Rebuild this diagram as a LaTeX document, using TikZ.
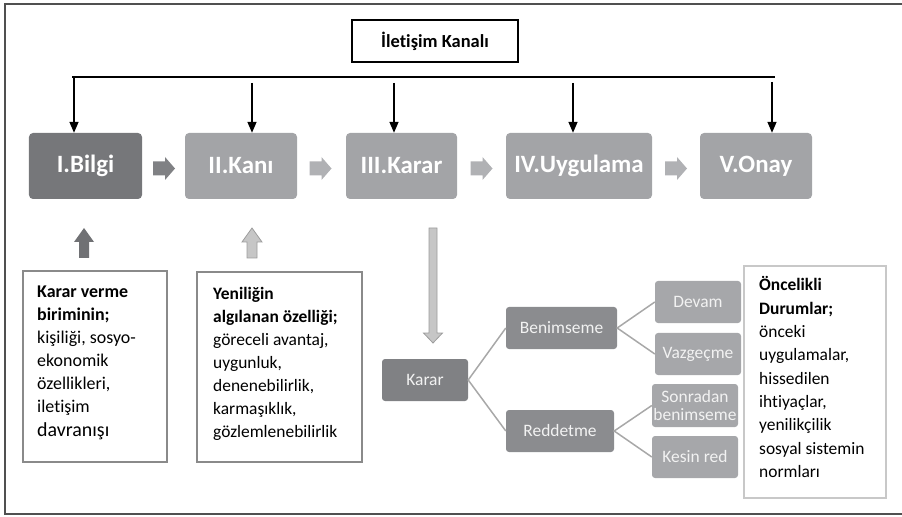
\documentclass[tikz,border=0pt]{standalone}
\usepackage{fontspec}
\setmainfont{Carlito}[Ligatures=NoCommon,RawFeature={-liga;-clig;-calt}]
\usetikzlibrary{arrows.meta}
\definecolor{stagedark}{HTML}{76777A}
\definecolor{stagelight}{HTML}{A3A4A7}
\definecolor{blkdark}{HTML}{808184}
\definecolor{blklight}{HTML}{B0B1B4}
\definecolor{treedark}{HTML}{808184}
\definecolor{treemid}{HTML}{8B8C8F}
\definecolor{treelight}{HTML}{A6A7AA}
\definecolor{lineg}{HTML}{A8A8A8}
\definecolor{boxedge}{HTML}{8A8A8A}
\definecolor{boxedgelight}{HTML}{C8C8C8}
\definecolor{paleg}{HTML}{C6C6C6}
\definecolor{paleedge}{HTML}{9C9C9C}
\definecolor{frameg}{HTML}{505050}
\begin{document}
\begin{tikzpicture}[x=1bp,y=-1bp,
  stage/.style={rounded corners=4bp, minimum height=66bp, inner sep=0pt, text=white,
    font=\fontsize{25}{30}\selectfont\bfseries},
  treebox/.style={rounded corners=3bp, minimum height=42bp, inner sep=0pt, text=white!95!black,
    font=\fontsize{17.5}{19}\selectfont, align=center},
  infobox/.style={draw=boxedge, line width=1.5bp, inner sep=0pt},
  dnarrow/.style={line width=1.5bp, -{Triangle[length=11bp,width=9bp]}},
  treeline/.style={draw=lineg, line width=1.5bp},
  boxtext/.style={anchor=base west, inner sep=0pt},
  rarrow/.pic={\path[pic actions] (0,-7) -- (12,-7) -- (12,-11.5) -- (22,0) -- (12,11.5) -- (12,7) -- (0,7) -- cycle;},
  uarrow/.pic={\path[pic actions] (-5,30) -- (-5,14) -- (-10,14) -- (0,0) -- (10,14) -- (5,14) -- (5,30) -- cycle;}
]
\useasboundingbox (0,0) rectangle (902,517);
% outer frame (open on the right)
\draw[frameg, line width=1.6bp] (902,4) -- (5,4) -- (5,514) -- (902,514);

% communication channel
\node[draw=black, line width=1.3bp, minimum width=166bp, minimum height=42bp, inner sep=0pt,
  font=\fontsize{18.5}{22}\selectfont\bfseries] (kanal) at (435,41) {İletişim Kanalı};
\coordinate (l0) at (72,77);
\coordinate (l1) at (775,77);
\draw[line width=1.5bp] (l0) -- (l1);

% stages
\node[stage, fill=stagedark, minimum width=113bp] (b1) at (85.5,166) {I.Bilgi};
\node[stage, fill=stagelight, minimum width=112bp] (b2) at (241,166) {II.Kanı};
\node[stage, fill=stagelight, minimum width=111bp] (b3) at (401.5,166) {III.Karar};
\node[stage, fill=stagelight, minimum width=146bp] (b4) at (579,166) {IV.Uygulama};
\node[stage, fill=stagelight, minimum width=112bp] (b5) at (756,166) {V.Onay};

% arrows from channel line
\coordinate (a1) at (74,77);
\coordinate (a2) at (252,83);
\coordinate (a3) at (394,83);
\coordinate (a4) at (573,83);
\coordinate (a5) at (772,82);
\foreach \i in {1,...,5}{\draw[dnarrow] (a\i) -- (a\i |- b\i.north);}

% block arrows between stages
\pic[fill=blkdark] at (153,168.5) {rarrow};
\pic[fill=blklight] at (309.5,168.5) {rarrow};
\pic[fill=blklight] at (470.5,168.5) {rarrow};
\pic[fill=blklight] at (665,168.5) {rarrow};

% up arrows
\pic[fill=stagedark!95!black] at (84,228) {uarrow};
\pic[fill=paleg, draw=paleedge, line width=0.8bp] at (252,228) {uarrow};

% down arrow to Karar
\path[fill=paleg, draw=paleedge, line width=0.8bp] (429,228) -- (437,228) -- (437,333) -- (442.5,333) -- (433,343) -- (423.5,333) -- (429,333) -- cycle;

% info boxes
\draw[infobox] (23,271) rectangle (167,462);
\node[boxtext] (t1) at (37,298) {\parbox[t]{128bp}{\raggedright\fontsize{18}{23}\selectfont
  \textbf{Karar verme}\\ \textbf{biriminin;}\\ kişiliği, sosyo-\\ ekonomik\\ özellikleri,\\ iletişim\\[1bp] {\fontsize{20}{23}\selectfont davranışı}}};
\draw[infobox] (197,272) rectangle (362,462);
\node[boxtext] (t2) at (213,300) {\parbox[t]{148bp}{\raggedright\fontsize{17.5}{23}\selectfont
  \textbf{Yeniliğin}\\ \textbf{algılanan özelliği;}\\ göreceli avantaj,\\ uygunluk,\\ denenebilirlik,\\ karmaşıklık,\\ gözlemlenebilirlik}};
\draw[infobox, draw=boxedgelight] (744,266) rectangle (886,498);
\node[boxtext] (t3) at (759,291) {\parbox[t]{126bp}{\raggedright\fontsize{17.5}{23.4}\selectfont
  \textbf{Öncelikli}\\ \textbf{Durumlar;}\\ önceki\\ uygulamalar,\\ hissedilen\\ ihtiyaçlar,\\ yenilikçilik\\ sosyal sistemin\\ normları}};

% decision tree
\node[treebox, fill=treedark, minimum width=86bp] (karar) at (425,380) {Karar};
\node[treebox, fill=treemid, minimum width=111bp] (ben) at (561.5,328) {Benimseme};
\node[treebox, fill=treemid, minimum width=108bp] (red) at (560,431) {Reddetme};
\node[treebox, fill=treelight, minimum width=86bp] (devam) at (698,302) {Devam};
\node[treebox, fill=treelight, minimum width=86bp] (vaz) at (698,354) {Vazgeçme};
\node[treebox, fill=treelight, minimum width=86bp, minimum height=43bp] (sonra) at (695,405.5) {Sonradan\\benimseme};
\node[treebox, fill=treelight, minimum width=86bp] (kesin) at (695,457) {Kesin red};

\draw[treeline] (ben.west) -- (karar.east) -- (red.west);
\draw[treeline] (devam.west) -- (ben.east) -- (vaz.west);
\draw[treeline] (sonra.west) -- (red.east) -- (kesin.west);
\end{tikzpicture}
\end{document}
